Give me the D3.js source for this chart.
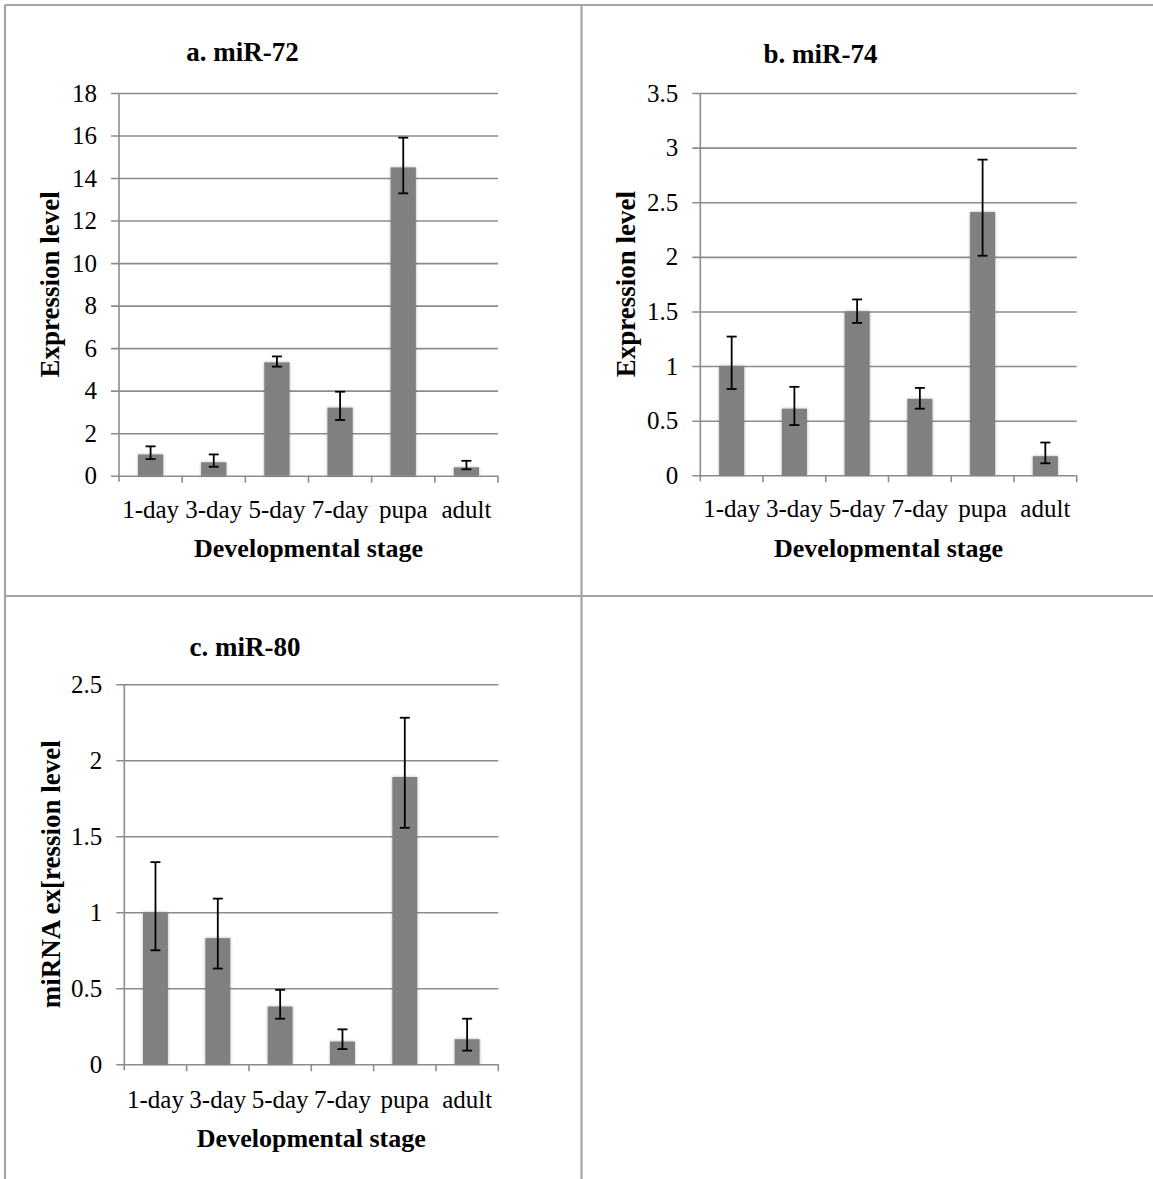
<!DOCTYPE html>
<html>
<head>
<meta charset="utf-8">
<script src="https://cdn.jsdelivr.net/npm/d3@7"></script>
<style>
  body { margin: 0; background: #fff; }
  svg { display: block; }
  text { font-family: "Liberation Serif", "DejaVu Serif", serif; fill: #000; }
</style>
</head>
<body>
<svg id="svg1" width="1153" height="1179"></svg>
<script>
// categories
var stages = ['1-day', '3-day', '5-day', '7-day', 'pupa', 'adult'];

// a. miR-72
var mir72Values = [1.0, 0.63, 5.33, 3.2, 14.5, 0.39];
var mir72Upper  = [1.38, 1.0, 5.61, 3.95, 15.9, 0.7];
var mir72Lower  = [0.78, 0.42, 5.13, 2.62, 13.28, 0.3];

// b. miR-74
var mir74Values = [1.0, 0.61, 1.5, 0.7, 2.41, 0.175];
var mir74Upper  = [1.27, 0.81, 1.61, 0.8, 2.89, 0.3];
var mir74Lower  = [0.79, 0.46, 1.395, 0.61, 2.01, 0.11];

// c. miR-80
var mir80Values = [1.0, 0.83, 0.38, 0.15, 1.89, 0.165];
var mir80Upper  = [1.33, 1.09, 0.49, 0.23, 2.28, 0.3];
var mir80Lower  = [0.75, 0.63, 0.3, 0.1, 1.556, 0.09];

// y tick labels
var ticks72 = [0, 2, 4, 6, 8, 10, 12, 14, 16, 18];
var ticks74 = [0, 0.5, 1, 1.5, 2, 2.5, 3, 3.5];
var ticks80 = [0, 0.5, 1, 1.5, 2, 2.5];

var svg = d3.select('svg');

var defs = svg.append('defs');
defs.append('filter').attr('id', 'shadow')
    .attr('x', '-30%').attr('y', '-10%').attr('width', '160%').attr('height', '120%')
  .append('feDropShadow')
    .attr('dx', 0).attr('dy', 0).attr('stdDeviation', 1.6)
    .attr('flood-color', '#000').attr('flood-opacity', 0.3);

// table borders
var border = svg.append('g').attr('stroke', '#a3a3a3').attr('stroke-width', 2.2).attr('fill', 'none');
border.append('line').attr('x1', 5).attr('x2', 1153).attr('y1', 5).attr('y2', 5);
border.append('line').attr('x1', 5).attr('x2', 5).attr('y1', 5).attr('y2', 1179);
border.append('line').attr('x1', 581.5).attr('x2', 581.5).attr('y1', 5).attr('y2', 1179);
border.append('line').attr('x1', 5).attr('x2', 1153).attr('y1', 596).attr('y2', 596);

var panels = [
  { title: 'a. miR-72', values: mir72Values, upper: mir72Upper, lower: mir72Lower, ticks: ticks72,
    max: 18, x0: 119, x1: 498, y0: 475.7, y1: 93, titleX: 242.5, titleY: 61,
    yTitle: 'Expression level', yTitleX: 59, labelY: 518, xTitleY: 557 },
  { title: 'b. miR-74', values: mir74Values, upper: mir74Upper, lower: mir74Lower, ticks: ticks74,
    max: 3.5, x0: 700.3, x1: 1076.7, y0: 475.3, y1: 93, titleX: 820.5, titleY: 63,
    yTitle: 'Expression level', yTitleX: 635, labelY: 517, xTitleY: 557 },
  { title: 'c. miR-80', values: mir80Values, upper: mir80Upper, lower: mir80Lower, ticks: ticks80,
    max: 2.5, x0: 124.3, x1: 498.3, y0: 1064.3, y1: 684.3, titleX: 245, titleY: 656,
    yTitle: 'miRNA ex[ression level', yTitleX: 60, labelY: 1108, xTitleY: 1147 }
];

panels.forEach(drawPanel);

function drawPanel(p) {
  var x = d3.scaleBand()
      .domain(stages)
      .range([p.x0, p.x1])
      .paddingInner(0.6)
      .paddingOuter(0.3);

  var y = d3.scaleLinear()
      .domain([0, p.max])
      .range([p.y0, p.y1]);

  var w = p.x1 - p.x0;
  var g = svg.append('g');

  // y axis with gridlines
  var yAxis = d3.axisLeft(y)
      .tickValues(p.ticks)
      .tickFormat(function(d) { return String(d); })
      .tickSize(-w)
      .tickPadding(22);

  var ay = g.append('g')
      .attr('transform', 'translate(' + p.x0 + ',0)')
      .call(yAxis);
  ay.select('.domain').remove();
  ay.selectAll('.tick line')
      .attr('x1', -8)
      .attr('stroke', '#8c8c8c')
      .attr('stroke-width', 1.6);
  ay.selectAll('.tick text')
      .attr('font-size', 25)
      .attr('font-family', '"Liberation Serif", serif')
      .attr('fill', '#000');

  // vertical axis line
  g.append('line')
      .attr('x1', p.x0).attr('x2', p.x0)
      .attr('y1', y(p.max)).attr('y2', p.y0 + 6)
      .attr('stroke', '#8c8c8c').attr('stroke-width', 1.6);

  // x ticks at category boundaries
  var half = (x.step() - x.bandwidth()) / 2;
  var bounds = stages.map(function(d) { return x(d) - half; }).concat([p.x1]);
  g.append('g').selectAll('line')
      .data(bounds.slice(1))
      .enter().append('line')
      .attr('x1', function(d) { return d; })
      .attr('x2', function(d) { return d; })
      .attr('y1', p.y0).attr('y2', p.y0 + 7)
      .attr('stroke', '#8c8c8c').attr('stroke-width', 1.6);

  // category labels
  var xAxis = d3.axisBottom(x).tickSize(0).tickPadding(0);
  var ax = g.append('g')
      .attr('transform', 'translate(0,' + p.labelY + ')')
      .call(xAxis);
  ax.select('.domain').remove();
  ax.selectAll('.tick text')
      .attr('dy', 0)
      .attr('y', 0)
      .attr('font-size', 25)
      .attr('font-family', '"Liberation Serif", serif')
      .attr('fill', '#000');

  // bars
  var rows = stages.map(function(d, i) {
    return { stage: d, value: p.values[i], hi: p.upper[i], lo: p.lower[i] };
  });

  g.append('g').selectAll('rect')
      .data(rows)
      .enter().append('rect')
      .attr('x', function(d) { return x(d.stage); })
      .attr('width', x.bandwidth())
      .attr('y', function(d) { return y(d.value); })
      .attr('height', function(d) { return y(0) - y(d.value); })
      .attr('fill', '#808080')
      .attr('filter', 'url(#shadow)');

  // error bars
  var eb = g.append('g').attr('stroke', '#000').attr('stroke-width', 1.8);
  var cap = 5;
  rows.forEach(function(d) {
    var cx = x(d.stage) + x.bandwidth() / 2;
    eb.append('line').attr('x1', cx).attr('x2', cx).attr('y1', y(d.hi)).attr('y2', y(d.lo));
    eb.append('line').attr('x1', cx - cap).attr('x2', cx + cap).attr('y1', y(d.hi)).attr('y2', y(d.hi));
    eb.append('line').attr('x1', cx - cap).attr('x2', cx + cap).attr('y1', y(d.lo)).attr('y2', y(d.lo));
  });

  // titles
  g.append('text')
      .attr('x', p.titleX).attr('y', p.titleY)
      .attr('text-anchor', 'middle')
      .attr('font-weight', 'bold')
      .attr('font-size', 27)
      .text(p.title);

  g.append('text')
      .attr('x', (p.x0 + p.x1) / 2).attr('y', p.xTitleY)
      .attr('text-anchor', 'middle')
      .attr('font-weight', 'bold')
      .attr('font-size', 26)
      .text('Developmental stage');

  g.append('text')
      .attr('transform', 'translate(' + p.yTitleX + ',' + ((p.y0 + p.y1) / 2) + ') rotate(-90)')
      .attr('text-anchor', 'middle')
      .attr('font-weight', 'bold')
      .attr('font-size', 27)
      .text(p.yTitle);
}
</script>
</body>
</html>
